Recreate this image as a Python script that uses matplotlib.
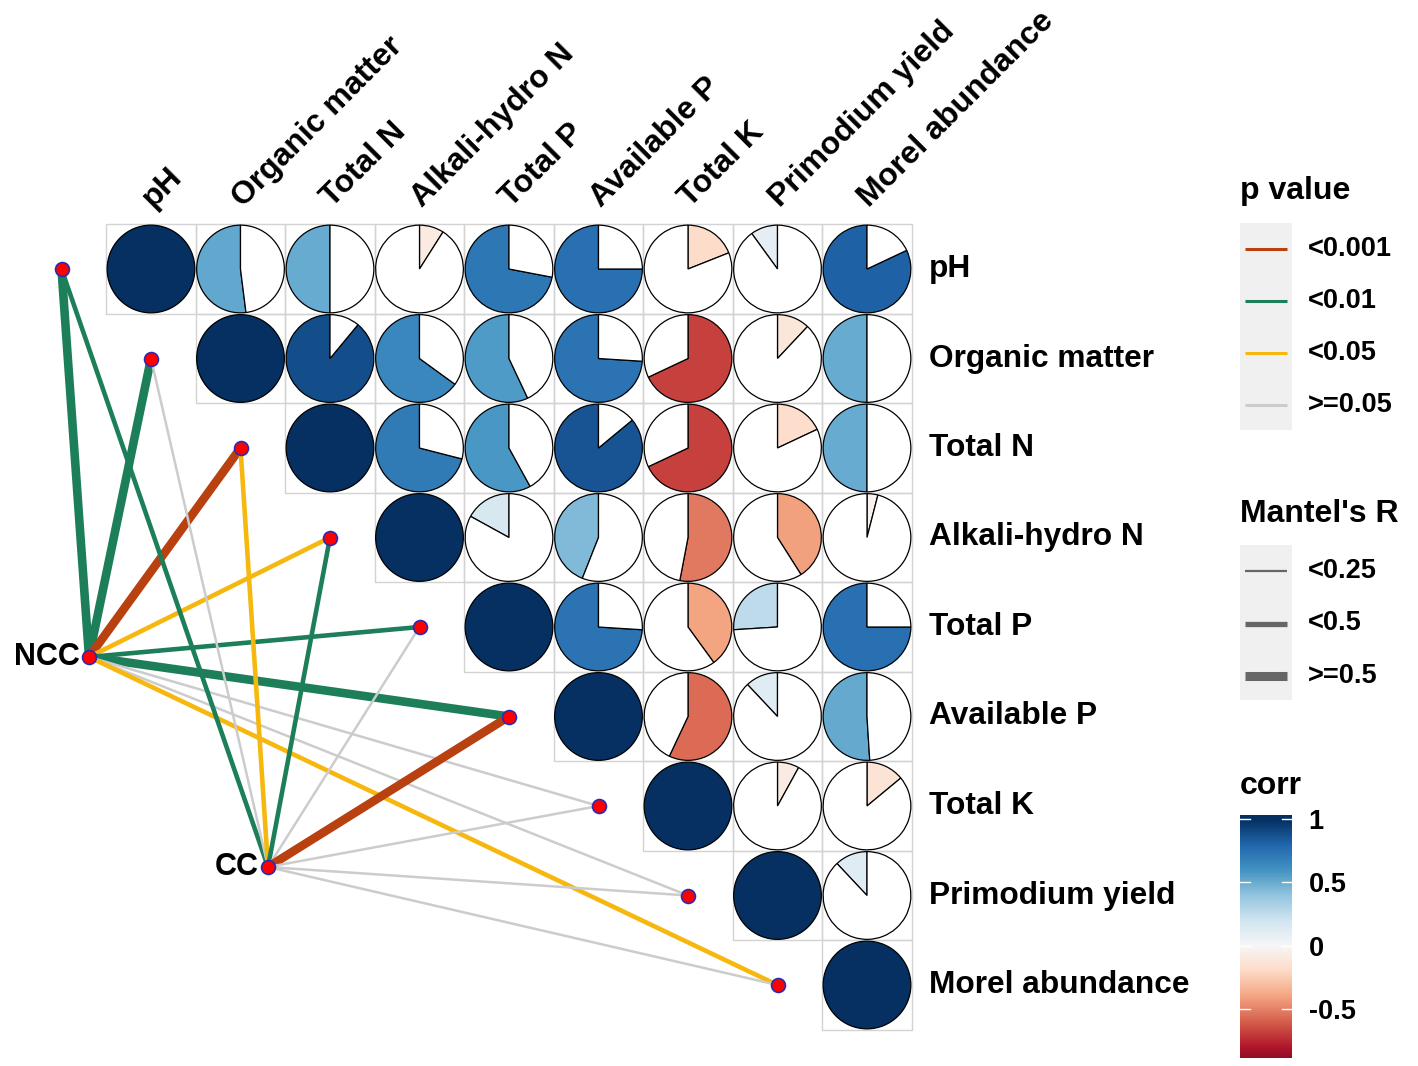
import numpy as np
import matplotlib
matplotlib.use('Agg')
import matplotlib.pyplot as plt
from matplotlib.patches import Wedge, Rectangle
from matplotlib.colors import Normalize

plt.rcParams['font.family'] = ['Liberation Sans', 'DejaVu Sans']
plt.rcParams['font.weight'] = 'bold'

# variables of the correlation matrix
variables = ['pH', 'Organic matter', 'Total N', 'Alkali-hydro N', 'Total P',
             'Available P', 'Total K', 'Primodium yield', 'Morel abundance']

# upper triangle of the correlation matrix, one list per row (starting at the diagonal)
r_ph = [1, 0.52, 0.50, -0.09, 0.72, 0.75, -0.19, 0.10, 0.82]
r_om = [1, 0.89, 0.65, 0.57, 0.74, -0.68, -0.12, 0.50]
r_tn = [1, 0.71, 0.58, 0.86, -0.68, -0.18, 0.50]
r_an = [1, 0.17, 0.44, -0.53, -0.41, -0.04]
r_tp = [1, 0.74, -0.40, 0.26, 0.75]
r_ap = [1, -0.57, 0.12, 0.51]
r_tk = [1, -0.08, -0.14]
r_py = [1, 0.12]
r_ma = [1]
corr_rows = [r_ph, r_om, r_tn, r_an, r_tp, r_ap, r_tk, r_py, r_ma]

# mantel test results (categories)
ncc_p = ['<0.01', '<0.01', '<0.001', '<0.05', '<0.01', '<0.01', '>=0.05', '>=0.05', '<0.05']
ncc_r = ['>=0.5', '>=0.5', '>=0.5', '<0.5', '<0.5', '>=0.5', '<0.25', '<0.25', '<0.5']
cc_p = ['<0.01', '>=0.05', '<0.05', '<0.01', '>=0.05', '<0.001', '>=0.05', '>=0.05', '>=0.05']
cc_r = ['<0.5', '<0.25', '<0.5', '<0.5', '<0.25', '>=0.5', '<0.25', '<0.25', '<0.25']

p_levels = ['<0.001', '<0.01', '<0.05', '>=0.05']
r_levels = ['<0.25', '<0.5', '>=0.5']
p_colors = {'<0.001': '#B8410F', '<0.01': '#1D7F5A', '<0.05': '#F6B70F', '>=0.05': '#CCCCCC'}
r_widths = {'<0.25': 1.8, '<0.5': 3.3, '>=0.5': 6.2}

cbar_min, cbar_max = -0.885, 1.03

W, H = 1418, 1066
U = 89.5  # pixels per cell
X0, Y0 = 151, 269
fig = plt.figure(figsize=(W / 100, H / 100), dpi=100)
ax = fig.add_axes([0, 0, 1, 1])
ax.set_xlim(-X0 / U, (W - X0) / U)
ax.set_ylim(-(H - Y0) / U, Y0 / U)
ax.axis('off')


def px(x, y):
    return (x - X0) / U, -(y - Y0) / U


cmap = plt.get_cmap('RdBu')
norm = Normalize(-1, 1)
n = len(variables)

# grid and pies
for i, row in enumerate(corr_rows):
    for k, r in enumerate(row):
        j = i + k
        cx, cy = j, -i
        ax.add_patch(Rectangle((cx - 0.5, cy - 0.5), 1, 1, fill=False,
                               edgecolor='#D3D3D3', lw=1, zorder=1))
        rad = 0.49
        ang = 360 * abs(r)
        if r >= 0:
            t1, t2 = 90, 90 + ang
            w1, w2 = 90 + ang, 450
        else:
            t1, t2 = 90 - ang, 90
            w1, w2 = 90, 90 - ang + 360
        ax.add_patch(Wedge((cx, cy), rad, t1, t2, facecolor=cmap(norm(r)),
                           edgecolor='black', lw=0.9, zorder=3))
        if ang < 359.9:
            ax.add_patch(Wedge((cx, cy), rad, w1, w2, facecolor='white',
                               edgecolor='black', lw=0.9, zorder=3))

# labels
for j, v in enumerate(variables):
    ax.text(j + 0.08, 0.63, v, rotation=45, rotation_mode='anchor',
            ha='left', va='bottom', fontsize=23, fontweight='bold')
    ax.text(n - 0.5 + 0.19, -j, v, ha='left', va='center',
            fontsize=22.8, fontweight='bold')

# mantel links
nodes = {'NCC': px(89, 657), 'CC': px(268, 867)}
targets = [(i - 1, -i) for i in range(n)]
for name, pc, rc in [('NCC', ncc_p, ncc_r), ('CC', cc_p, cc_r)]:
    sx, sy = nodes[name]
    for i in range(n):
        tx, ty = targets[i]
        ax.plot([sx, tx], [sy, ty], color=p_colors[pc[i]], lw=r_widths[rc[i]],
                solid_capstyle='butt', zorder=4)
for tx, ty in targets:
    ax.plot(tx, ty, 'o', ms=10, mfc='red', mec='#2B2BB5', mew=1.2, zorder=6)
for name, (sx, sy) in nodes.items():
    ax.plot(sx, sy, 'o', ms=10, mfc='red', mec='#2B2BB5', mew=1.2, zorder=6)
    ax.text(sx - 0.1, sy, name, ha='right', va='center', fontsize=22,
            fontweight='bold', zorder=6)

# p value legend
ax.text(*px(1240, 191), 'p value', ha='left', va='center', fontsize=23, fontweight='bold')
bx, by = px(1240, 430)
ax.add_patch(Rectangle((bx, by), 52 / U, 207 / U, facecolor='#F0F0F0', edgecolor='none'))
for k, lev in enumerate(p_levels):
    y = 249 + 52 * k
    x1, y1 = px(1245, y)
    x2, _ = px(1287, y)
    ax.plot([x1, x2], [y1, y1], color=p_colors[lev], lw=2.2, solid_capstyle='butt')
    ax.text(*px(1308, y), lev, ha='left', va='center', fontsize=19.5, fontweight='bold')

# Mantel's R legend
ax.text(*px(1240, 514), "Mantel's R", ha='left', va='center', fontsize=23, fontweight='bold')
bx, by = px(1240, 700)
ax.add_patch(Rectangle((bx, by), 52 / U, 155 / U, facecolor='#F0F0F0', edgecolor='none'))
for k, lev in enumerate(r_levels):
    y = 571 + 52.5 * k
    x1, y1 = px(1245, y)
    x2, _ = px(1287, y)
    ax.plot([x1, x2], [y1, y1], color='#666666', lw=[1.6, 3.8, 6.5][k], solid_capstyle='butt')
    ax.text(*px(1308, y), lev, ha='left', va='center', fontsize=19.5, fontweight='bold')

# corr colorbar
ax.text(*px(1240, 786), 'corr', ha='left', va='center', fontsize=23, fontweight='bold')
cax = fig.add_axes([1240 / W, 1 - 1058 / H, 52 / W, 243 / H])
grad = np.linspace(cbar_min, cbar_max, 300)[:, None]
cax.imshow(grad, cmap=cmap, norm=norm, aspect='auto', origin='lower',
           extent=[0, 1, cbar_min, cbar_max])
ticks = [-0.5, 0, 0.5, 1]
for t in ticks:
    cax.plot([0, 0.2], [t, t], color='white', lw=1)
    cax.plot([0.8, 1], [t, t], color='white', lw=1)
cax.set_xlim(0, 1)
cax.set_ylim(cbar_min, cbar_max)
cax.set_xticks([])
cax.yaxis.tick_right()
cax.set_yticks(ticks)
cax.set_yticklabels(['-0.5', '0', '0.5', '1'], fontsize=19.5, fontweight='bold')
cax.tick_params(axis='y', length=0, pad=12)
for s in cax.spines.values():
    s.set_visible(False)

fig.savefig('out.png', dpi=100, facecolor='white')
